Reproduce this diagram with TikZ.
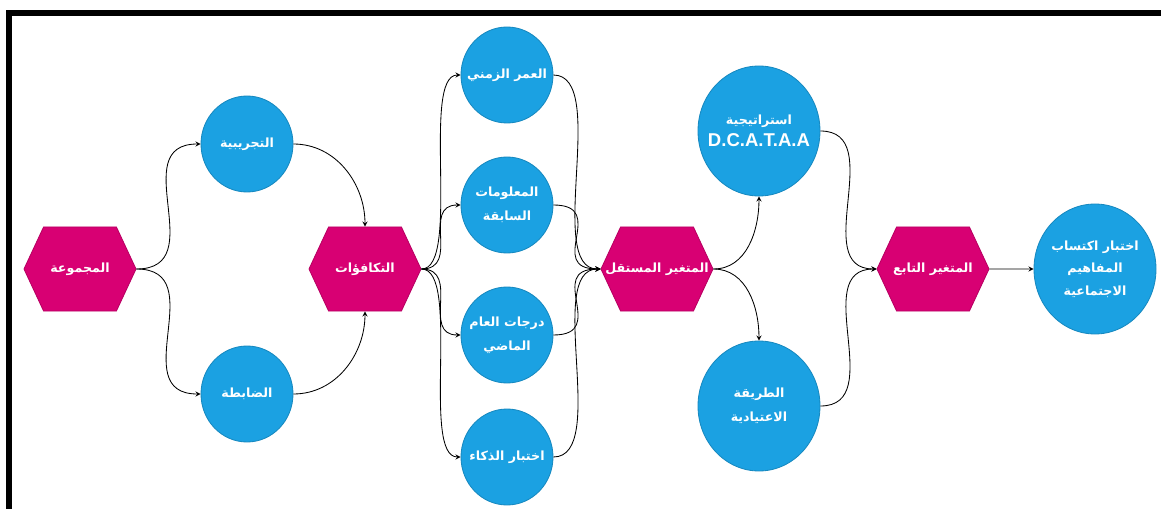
\documentclass[tikz,border=0pt]{standalone}
\usepackage{fontspec}
\newfontfamily\arabicfont[Script=Arabic]{DejaVu Sans}
\newfontfamily\latinfont{Liberation Sans}
\TeXXeTstate=1
\usetikzlibrary{shapes.geometric, shapes.symbols, positioning, arrows}
\definecolor{hexPink}{HTML}{D80073}
\definecolor{discBlue}{HTML}{1BA1E2}
\newcommand{\rtl}[1]{\beginR #1\endR}
\newcommand{\rtlHex}[1]{\makebox[0pt]{\beginR #1\endR}} % text may run into the points
\tikzset{
    ->, % all connectors are directed
    >=stealth, % small filled heads
    node distance=7cm, % spacing along the middle row, changed per node
}

\begin{document}
\begin{tikzpicture}[
        styleHex/.style={signal, signal to=east and west, signal pointer angle=130,
            fill=hexPink, draw=hexPink!85!black, minimum width=2.8cm, minimum height=2.1cm,
            inner sep=0pt, text=white, font=\arabicfont\bfseries\small},
        styleDisc/.style={ellipse, fill=discBlue, draw=discBlue!85!black,
            minimum width=2.3cm, minimum height=2.4cm, inner sep=-14pt, % keeps all discs one size
            text=white, font=\arabicfont\bfseries\small, align=center},
        styleBig/.style={styleDisc, minimum width=3.05cm, minimum height=3.25cm},
        line width=0.6pt,
    ]
    \useasboundingbox (-2,-6) rectangle (27.025,6.725);
    % frame (only top and left side show)
    \draw[-, line width=4.3pt, line join=miter] (-1.775,-6) -- (-1.775,6.4) -- (27.025,6.4);

    % middle row
    \node[styleHex] (grp) at (0,0) {\rtlHex{المجموعة}};
    \node[styleHex, right of=grp, node distance=7.125cm] (eqv) {\rtlHex{التكافؤات}};
    \node[styleHex, right of=eqv, node distance=7.3cm] (indep) {\rtlHex{المتغير المستقل}};
    \node[styleHex, right of=indep, node distance=6.9cm] (dep) {\rtlHex{المتغير التابع}};
    \node[styleBig, right of=dep, node distance=4.05cm] (test)
        {\rtl{اختبار اكتساب}\\[5pt]\rtl{المفاهيم}\\[5pt]\rtl{الاجتماعية}};

    % groups
    \node[styleDisc] (exp) at (4.175,3.125) {\rtl{التجريبية}};
    \node[styleDisc] (ctl) at (4.175,-3.125) {\rtl{الضابطة}};

    % equivalence variables
    \node[styleDisc] (age) at (10.675,4.85) {\rtl{العمر الزمني}};
    \node[styleDisc] (prior) at (10.675,1.6) {\rtl{المعلومات}\\[6pt]\rtl{السابقة}};
    \node[styleDisc] (grades) at (10.675,-1.65) {\rtl{درجات العام}\\[6pt]\rtl{الماضي}};
    \node[styleDisc] (iq) at (10.675,-4.7) {\rtl{اختبار الذكاء}};

    % teaching methods
    \node[styleBig] (strat) at (16.975,3.45)
        {\rtl{استراتيجية}\\[3pt]{\latinfont\bfseries\fontsize{13.2}{15}\selectfont D.C.A.T.A.A}};
    \node[styleBig] (trad) at (16.975,-3.425) {\rtl{الطريقة}\\[6pt]\rtl{الاعتيادية}};

    \draw
    (grp) edge[out=0, in=180, distance=1.9cm] (exp)
    (grp) edge[out=0, in=180, distance=1.9cm] (ctl)
    (exp) edge[out=0, in=90] (eqv)
    (ctl) edge[out=0, in=-90] (eqv)

    (eqv) edge[out=0, in=180, distance=1.0cm] (age)
    (eqv) edge[out=0, in=180, distance=1.0cm] (prior)
    (eqv) edge[out=0, in=180, distance=1.0cm] (grades)
    (eqv) edge[out=0, in=180, distance=1.0cm] (iq)
    (age) edge[out=0, in=180, distance=1.4cm] (indep)
    (prior) edge[out=0, in=180, distance=1.4cm] (indep)
    (grades) edge[out=0, in=180, distance=1.4cm] (indep)
    (iq) edge[out=0, in=180, distance=1.4cm] (indep)

    (indep) edge[out=0, in=-90] (strat)
    (indep) edge[out=0, in=90] (trad)
    (strat) edge[out=0, in=180, distance=1.7cm] (dep)
    (trad) edge[out=0, in=180, distance=1.7cm] (dep)
    (dep) edge (test);
\end{tikzpicture}
\end{document}
